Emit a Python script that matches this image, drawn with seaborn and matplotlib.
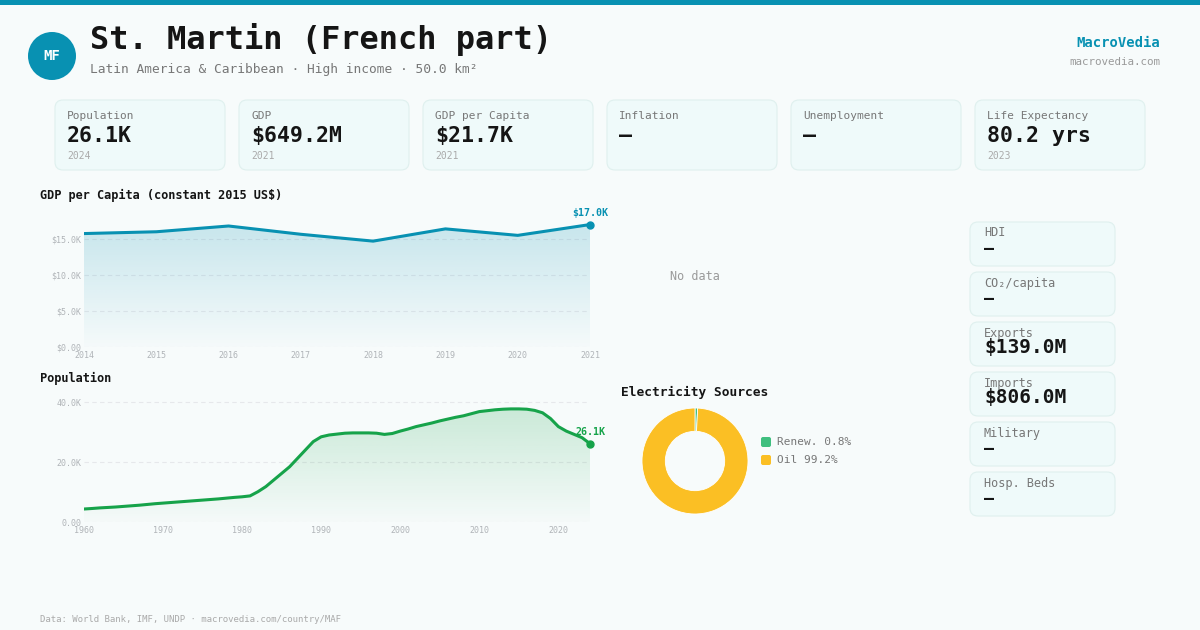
import numpy as np
import pandas as pd
import matplotlib
matplotlib.use("Agg")
import matplotlib.pyplot as plt
import seaborn as sns
from matplotlib.patches import FancyBboxPatch, Circle, Rectangle
from matplotlib.colors import to_rgb

# ---- data ----
gdp_years = [2014, 2015, 2016, 2017, 2018, 2019, 2020, 2021]
gdp_pc = [15750, 16000, 16800, 15650, 14700, 16400, 15500, 17000]

pop_years = list(range(1960, 2025))
pop_vals = [4.33, 4.5, 4.7, 4.85, 5.0, 5.2, 5.4, 5.6, 5.85, 6.1,
            6.3, 6.5, 6.7, 6.9, 7.1, 7.3, 7.5, 7.7, 7.95, 8.2,
            8.4, 8.7, 10.1, 11.8, 14.0, 16.2, 18.4, 21.2, 24.0, 26.8,
            28.4, 29.0, 29.3, 29.6, 29.7, 29.7, 29.7, 29.6, 29.2, 29.5,
            30.3, 31.0, 31.8, 32.4, 33.0, 33.7, 34.3, 34.9, 35.4, 36.1,
            36.8, 37.1, 37.4, 37.6, 37.7, 37.7, 37.6, 37.2, 36.4, 34.5,
            31.8, 30.3, 29.2, 28.1, 26.1]
pop_vals = [v * 1000 for v in pop_vals]

elec_labels = ["Renew. 0.8%", "Oil 99.2%"]
elec_shares = [0.8, 99.2]

kpi_labels = ["Population", "GDP", "GDP per Capita", "Inflation", "Unemployment", "Life Expectancy"]
kpi_values = ["26.1K", "$649.2M", "$21.7K", "\u2014", "\u2014", "80.2 yrs"]
kpi_years = ["2024", "2021", "2021", "", "", "2023"]

side_labels = ["HDI", "CO\u2082/capita", "Exports", "Imports", "Military", "Hosp. Beds"]
side_values = ["\u2014", "\u2014", "$139.0M", "$806.0M", "\u2014", "\u2014"]

TEAL = "#0891b2"
GREEN = "#16a34a"
YELLOW = "#fbbf24"
RENEW = "#3fbf7f"
BG = "#f7fbfb"

sns.set_theme(style="white")
plt.rcParams['font.family'] = ['DejaVu Sans Mono', 'DejaVu Sans']

W, H = 1200, 630
fig = plt.figure(figsize=(12, 6.3), dpi=100, facecolor=BG)


def rect(l, t, r, b):
    return [l / W, 1 - b / H, (r - l) / W, (b - t) / H]


bg = fig.add_axes([0, 0, 1, 1], zorder=0)
bg.set_xlim(0, W)
bg.set_ylim(H, 0)
bg.axis('off')
bg.set_facecolor(BG)

# header
bg.add_patch(Rectangle((0, 0), W, 5, color=TEAL, lw=0))
bg.add_patch(Circle((52, 56), 24, color=TEAL, lw=0))
bg.text(52, 56, "MF", color="white", fontsize=10, fontweight="bold", ha="center", va="center")
bg.text(90, 39, "St. Martin (French part)", fontsize=23, fontweight="bold", color="#151515", va="center")
bg.text(90, 69, "Latin America & Caribbean \u00b7 High income \u00b7 50.0 km\u00b2", fontsize=9.3,
        color="#777777", va="center")
bg.text(1160, 43, "MacroVedia", fontsize=10, fontweight="bold", color=TEAL, ha="right", va="center")
bg.text(1160, 62, "macrovedia.com", fontsize=7.8, color="#9a9a9a", ha="right", va="center")


def card(x, y, w, h):
    bg.add_patch(FancyBboxPatch((x, y), w, h, boxstyle="round,pad=0,rounding_size=8",
                                fc="#effafa", ec="#dff0ee", lw=0.8))


for i, (lab, val, yr) in enumerate(zip(kpi_labels, kpi_values, kpi_years)):
    x = 55 + i * 184
    card(x, 100, 170, 70)
    bg.text(x + 12, 116, lab, fontsize=8, color="#777777", va="center")
    bg.text(x + 12, 136, val, fontsize=15.5, fontweight="bold", color="#151515", va="center")
    if yr:
        bg.text(x + 12, 156, yr, fontsize=7, color="#aaaaaa", va="center")

for i, (lab, val) in enumerate(zip(side_labels, side_values)):
    y = 222 + i * 50
    card(970, y, 145, 44)
    bg.text(984, y + 11, lab, fontsize=8.6, color="#777777", va="center")
    if val == "\u2014":
        bg.text(984, y + 27, val, fontsize=12, fontweight="bold", color="#151515", va="center")
    else:
        bg.text(984, y + 26, val, fontsize=14, fontweight="bold", color="#151515", va="center")

bg.text(40, 195, "GDP per Capita (constant 2015 US$)", fontsize=8.6, fontweight="bold",
        color="#151515", va="center")
bg.text(40, 378, "Population", fontsize=8.6, fontweight="bold", color="#151515", va="center")
bg.text(695, 276, "No data", fontsize=8.5, color="#9a9a9a", ha="center", va="center")
bg.text(695, 392, "Electricity Sources", fontsize=9.3, fontweight="bold", color="#151515",
        ha="center", va="center")
bg.text(40, 619, "Data: World Bank, IMF, UNDP \u00b7 macrovedia.com/country/MAF", fontsize=6.5,
        color="#aaaaaa", va="center")

# legend for donut
for i, (lab, col) in enumerate(zip(elec_labels, [RENEW, YELLOW])):
    yy = 442 + i * 18
    bg.add_patch(FancyBboxPatch((761, yy - 5), 10, 10, boxstyle="round,pad=0,rounding_size=2",
                                fc=col, ec="none"))
    bg.text(777, yy, lab, fontsize=8, color="#777777", va="center")


def grad_fill(ax, x, y, color, alpha_top, ymax):
    poly = ax.fill_between(x, y, 0, color="none", lw=0)
    path = poly.get_paths()[0]
    rgba = np.zeros((200, 1, 4))
    rgba[..., :3] = to_rgb(color)
    rgba[..., 3] = np.linspace(alpha_top, 0.01, 200)[:, None]
    im = ax.imshow(rgba, extent=[min(x), max(x), 0, ymax], aspect="auto", origin="upper", zorder=1)
    im.set_clip_path(path, transform=ax.transData)


def style_axes(ax):
    ax.set_facecolor("none")
    for s in ax.spines.values():
        s.set_visible(False)
    ax.tick_params(axis="both", length=0, labelsize=6, labelcolor="#b0b4b8")
    ax.tick_params(axis="y", pad=2)
    ax.tick_params(axis="x", pad=3)
    ax.grid(False)
    ax.set_xlabel("")
    ax.set_ylabel("")


# GDP per capita chart
ax1 = fig.add_axes(rect(84, 222.4, 590, 347), zorder=2)
gdf = pd.DataFrame({"year": gdp_years, "value": gdp_pc})
grad_fill(ax1, gdp_years, gdp_pc, TEAL, 0.2, max(gdp_pc))
sns.lineplot(data=gdf, x="year", y="value", ax=ax1, color=TEAL, linewidth=2.2, zorder=3)
ax1.plot(gdp_years[-1], gdp_pc[-1], "o", color=TEAL, markersize=5, zorder=4, clip_on=False)
ax1.annotate("$17.0K", (gdp_years[-1], gdp_pc[-1]), xytext=(0, 5), textcoords="offset points",
             ha="center", va="bottom", fontsize=7.2, fontweight="bold", color=TEAL, annotation_clip=False)
gdp_ticks = [0, 5000, 10000, 15000]
for t in gdp_ticks:
    ax1.axhline(t, color="#e6e8eb", lw=0.8, ls=(0, (4, 3)), zorder=0)
ax1.set_yticks(gdp_ticks)
ax1.set_yticklabels(["$0.00", "$5.0K", "$10.0K", "$15.0K"])
ax1.set_xticks(gdp_years)
ax1.set_xticklabels([str(y) for y in gdp_years])
ax1.set_xlim(2014, 2021)
ax1.set_ylim(0, 17300)
style_axes(ax1)

# Population chart
ax2 = fig.add_axes(rect(84, 400.5, 590, 522), zorder=2)
pdf = pd.DataFrame({"year": pop_years, "value": pop_vals})
grad_fill(ax2, pop_years, pop_vals, GREEN, 0.2, max(pop_vals))
sns.lineplot(data=pdf, x="year", y="value", ax=ax2, color=GREEN, linewidth=2.2, zorder=3)
ax2.plot(pop_years[-1], pop_vals[-1], "o", color=GREEN, markersize=5, zorder=4, clip_on=False)
ax2.annotate("26.1K", (pop_years[-1], pop_vals[-1]), xytext=(0, 5), textcoords="offset points",
             ha="center", va="bottom", fontsize=7.2, fontweight="bold", color=GREEN, annotation_clip=False)
pop_ticks = [0, 20000, 40000]
for t in pop_ticks:
    ax2.axhline(t, color="#e6e8eb", lw=0.8, ls=(0, (4, 3)), zorder=0)
ax2.set_yticks(pop_ticks)
ax2.set_yticklabels(["0.00", "20.0K", "40.0K"])
pop_xt = list(range(1960, 2021, 10))
ax2.set_xticks(pop_xt)
ax2.set_xticklabels([str(y) for y in pop_xt])
ax2.set_xlim(1960, 2024)
ax2.set_ylim(0, 40500)
style_axes(ax2)

# Donut
ax3 = fig.add_axes(rect(642, 408, 748, 514), zorder=2)
ax3.pie(elec_shares, colors=[RENEW, YELLOW], startangle=90, counterclock=False,
        wedgeprops=dict(width=0.44, edgecolor="white", linewidth=0.6))
ax3.set_xlim(-1.0, 1.0)
ax3.set_ylim(-1.0, 1.0)
ax3.set_aspect("equal")
ax3.axis("off")

fig.savefig("out.png", dpi=100, facecolor=BG)
